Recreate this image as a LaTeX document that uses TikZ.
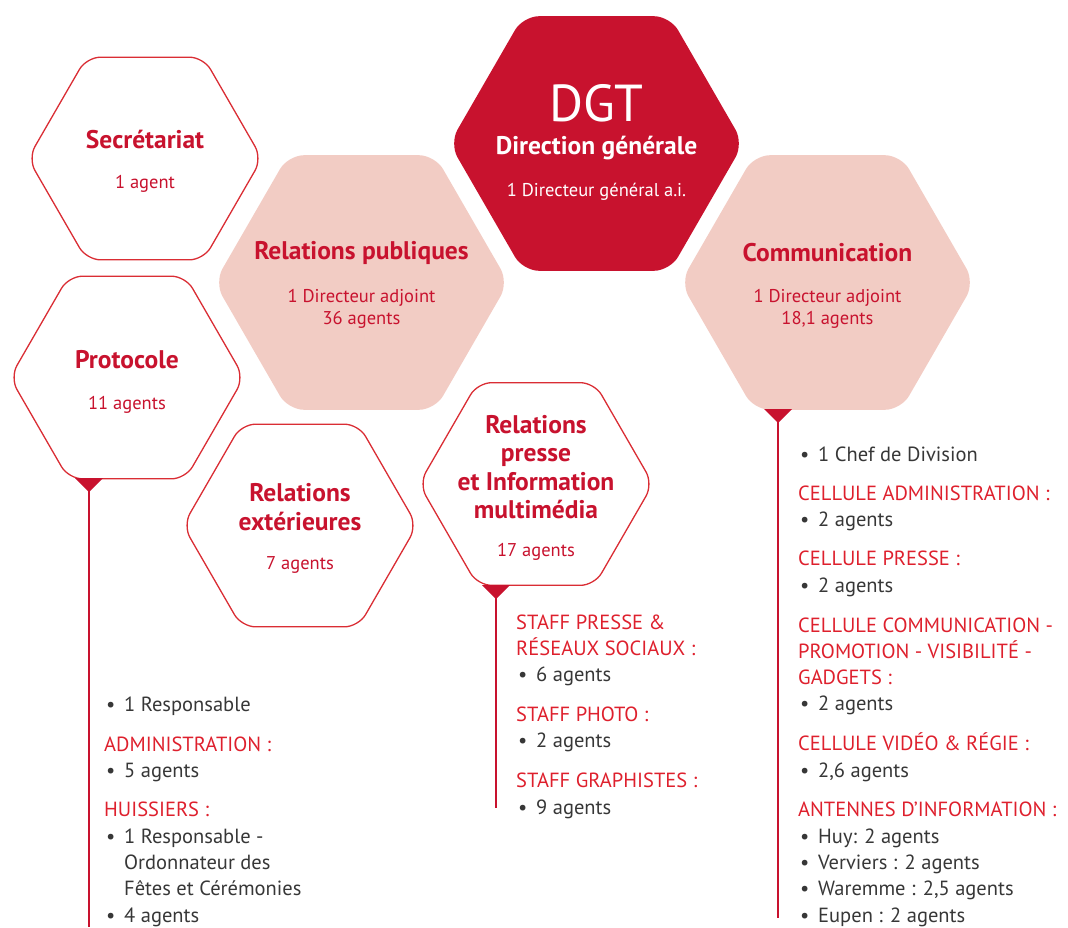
\documentclass[tikz,border=0pt]{standalone}
\usepackage{fontspec}
\setmainfont{PT Sans}
\definecolor{dgt}{RGB}{200,18,46}
\definecolor{pinkf}{RGB}{242,204,196}
\definecolor{outl}{RGB}{218,45,52}
\definecolor{hdr}{RGB}{222,32,45}
\definecolor{bodyc}{RGB}{55,55,55}
\newcommand\hexa[4]{\path[#1] ({#2-#4},#3) -- ({#2-0.5*#4},{#3-0.866*#4}) -- ({#2+0.5*#4},{#3-0.866*#4}) -- ({#2+#4},#3) -- ({#2+0.5*#4},{#3+0.866*#4}) -- ({#2-0.5*#4},{#3+0.866*#4}) -- cycle;}
\newcommand\bul{\makebox[20pt][l]{\hspace{2pt}•}}
\newcommand\ind{\hspace*{20pt}}
\newcommand\hd[1]{\textcolor{hdr}{#1}}
\begin{document}
\begin{tikzpicture}[x=1pt,y=-1pt,
  hexline/.style={draw=outl,line width=1.3pt,fill=white,rounded corners=14pt},
  hexpink/.style={fill=pinkf,rounded corners=16pt},
  hexdark/.style={fill=dgt,rounded corners=16pt},
  ttl/.style={text=dgt,font=\bfseries\fontsize{25.5}{28.5}\selectfont,inner sep=0pt,align=center},
  sub/.style={text=dgt,font=\fontsize{18.5}{22}\selectfont,inner sep=0pt,align=center},
  lst/.style={anchor=base west,inner sep=0pt,align=left,text=bodyc,font=\fontsize{20.5}{26.3}\selectfont},
  stem/.style={draw=dgt,line width=1.5pt},
  tri/.style={fill=dgt}]
\useasboundingbox (0,0) rectangle (1068,927);
% hexagons
\hexa{hexline}{145}{158.5}{117}
\hexa{hexline}{127}{377.5}{117}
\hexa{hexpink}{361.5}{282.5}{147}
\hexa{hexdark}{596.5}{143.5}{147}
\hexa{hexpink}{827.5}{282.5}{147}
\hexa{hexline}{300}{525.5}{117}
\hexa{hexline}{536}{484}{117}
% texts
\node[ttl] (sec) at (145,139) {Secrétariat};
\node[sub] (secn) at (145,184) {1 agent};
\node[ttl] (rp) at (361.5,253) {Relations publiques};
\node[sub] (rpn) at (361.5,309) {1 Directeur adjoint\\36 agents};
\node[text=white,font=\fontsize{52}{52}\selectfont,inner sep=0pt] (dgt) at (596.5,103) {DGT};
\node[ttl,text=white] (dg) at (596.5,148) {Direction générale};
\node[sub,text=white] (dgn) at (596.5,192) {1 Directeur général a.i.};
\node[ttl] (com) at (827.5,253) {Communication};
\node[sub] (comn) at (827.5,309) {1 Directeur adjoint\\18,1 agents};
\node[ttl] (pro) at (127,360) {Protocole};
\node[sub] (pron) at (127,405) {11 agents};
\node[ttl] (rex) at (300,507) {Relations\\extérieures};
\node[sub] (rexn) at (300,565) {7 agents};
\node[ttl] (rpi) at (536,467) {Relations\\presse\\et Information\\multimédia};
\node[sub] (rpin) at (536,552) {17 agents};
% stems
\coordinate (protri) at (89,478);
\coordinate (proend) at (89,927);
\coordinate (rpitri) at (496,585);
\coordinate (rpiend) at (496,808);
\coordinate (comtri) at (778,409);
\coordinate (comend) at (778,918);
\fill[tri] (protri) ++(-14,0) -- ++(28,0) -- ++(-14,14) -- cycle;
\fill[tri] (rpitri) ++(-14,0) -- ++(28,0) -- ++(-14,14) -- cycle;
\fill[tri] (comtri) ++(-14,0) -- ++(28,0) -- ++(-14,14) -- cycle;
\draw[stem] (protri) -- (proend);
\draw[stem] (rpitri) -- (rpiend);
\draw[stem] (comtri) -- (comend);
% lists (anchored at the baseline of their last line)
\node[lst] (prol) at (104,922) {\bul 1 Responsable\\[13.5pt]
\hd{ADMINISTRATION :}\\
\bul 5 agents\\[13pt]
\hd{HUISSIERS :}\\
\bul 1 Responsable -\\
\ind Ordonnateur des\\
\ind Fêtes et Cérémonies\\
\bul 4 agents};
\node[lst] (rpil) at (516,814) {\hd{STAFF PRESSE \&}\\
\hd{RÉSEAUX SOCIAUX :}\\
\bul 6 agents\\[13.5pt]
\hd{STAFF PHOTO :}\\
\bul 2 agents\\[13.5pt]
\hd{STAFF GRAPHISTES :}\\
\bul 9 agents};
\node[lst] (coml) at (798,922) {\bul 1 Chef de Division\\[13pt]
\hd{CELLULE ADMINISTRATION :}\\
\bul 2 agents\\[13pt]
\hd{CELLULE PRESSE :}\\
\bul 2 agents\\[13.5pt]
\hd{CELLULE COMMUNICATION -}\\
\hd{PROMOTION - VISIBILITÉ -}\\
\hd{GADGETS :}\\
\bul 2 agents\\[13.5pt]
\hd{CELLULE VIDÉO \& RÉGIE :}\\
\bul 2,6 agents\\[13.5pt]
\hd{ANTENNES D’INFORMATION :}\\
\bul Huy: 2 agents\\
\bul Verviers : 2 agents\\
\bul Waremme : 2,5 agents\\
\bul Eupen : 2 agents};
\end{tikzpicture}
\end{document}
